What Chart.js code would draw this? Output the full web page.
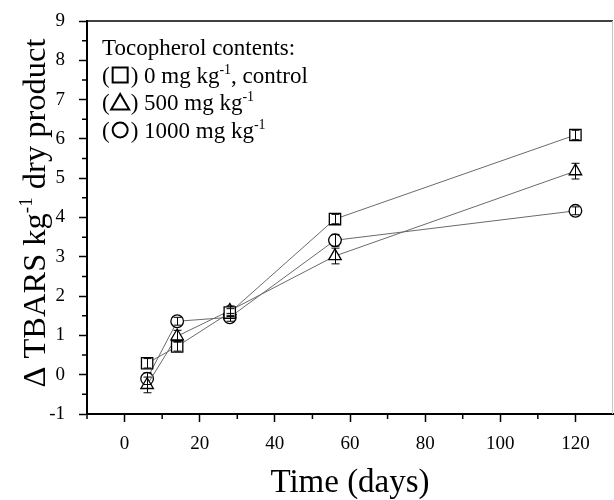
<!DOCTYPE html>
<html>
<head>
<meta charset="utf-8">
<script src="https://cdn.jsdelivr.net/npm/chart.js@4.4.1/dist/chart.umd.min.js"></script>
<style>
  html, body { margin: 0; padding: 0; background: #fff; }
</style>
</head>
<body>
<canvas id="bieuDoTBARS" width="614" height="500"></canvas>
<script>
// Số liệu
const ngay = [6, 14, 28, 56, 120];
const doiChung = [0.29, 0.72, 1.58, 3.96, 6.1];
const toco500 = [-0.26, 0.98, 1.63, 3.02, 5.18];
const toco1000 = [-0.1, 1.36, 1.46, 3.42, 4.17];

const saiSoDoiChung = [0.12, 0.12, 0.1, 0.12, 0.12];
const saiSo500 = [0.2, 0.15, 0.12, 0.2, 0.2];
const saiSo1000 = [0.15, 0.1, 0.1, 0.15, 0.1];

const vachX = [0, 20, 40, 60, 80, 100, 120];
const vachY = [-1, 0, 1, 2, 3, 4, 5, 6, 7, 8, 9];
const vachPhuX = [-10, 10, 30, 50, 70, 90, 110];
const vachPhuY = [-0.5, 0.5, 1.5, 2.5, 3.5, 4.5, 5.5, 6.5, 7.5, 8.5];

const FONT = "'Liberation Serif', 'Times New Roman', serif";

function taoDiem(xs, ys) {
    return xs.map((x, i) => ({ x: x, y: ys[i] }));
}

// Thanh sai số, vạch phụ, khung, tiêu đề trục y và chú thích
const veThem = {
    id: 'veThem',
    afterDatasetsDraw(chart) {
        const ctx = chart.ctx;
        const sx = chart.scales.x, sy = chart.scales.y;
        const nhom = [[doiChung, saiSoDoiChung], [toco500, saiSo500], [toco1000, saiSo1000]];
        ctx.save();
        ctx.strokeStyle = '#000';
        ctx.lineWidth = 1;
        nhom.forEach(([gt, ss]) => {
            gt.forEach((v, i) => {
                const x = Math.round(sx.getPixelForValue(ngay[i])) + 0.5;
                const y1 = sy.getPixelForValue(v + ss[i]);
                const y2 = sy.getPixelForValue(v - ss[i]);
                ctx.beginPath();
                ctx.moveTo(x, y1); ctx.lineTo(x, y2);
                ctx.moveTo(x - 4, y1); ctx.lineTo(x + 4, y1);
                ctx.moveTo(x - 4, y2); ctx.lineTo(x + 4, y2);
                ctx.stroke();
            });
        });
        ctx.restore();
    },
    afterDraw(chart) {
        const ctx = chart.ctx;
        const a = chart.chartArea;
        const sx = chart.scales.x, sy = chart.scales.y;
        ctx.save();

        // khung trên và phải
        ctx.strokeStyle = '#000';
        ctx.lineWidth = 1.5;
        ctx.beginPath();
        ctx.moveTo(a.left, a.top); ctx.lineTo(a.right, a.top);
        ctx.stroke();
        ctx.strokeStyle = '#c8c8c8';
        ctx.lineWidth = 1;
        ctx.beginPath();
        ctx.moveTo(a.right - 0.5, a.top); ctx.lineTo(a.right - 0.5, a.bottom);
        ctx.stroke();

        // vạch phụ
        ctx.strokeStyle = '#000';
        ctx.lineWidth = 1.5;
        ctx.beginPath();
        vachPhuX.forEach(v => {
            const x = sx.getPixelForValue(v);
            ctx.moveTo(x, a.bottom); ctx.lineTo(x, a.bottom + 5);
        });
        vachPhuY.forEach(v => {
            const y = sy.getPixelForValue(v);
            ctx.moveTo(a.left, y); ctx.lineTo(a.left - 5, y);
        });
        ctx.stroke();

        // tiêu đề trục y có chỉ số trên
        ctx.fillStyle = '#000';
        ctx.textBaseline = 'alphabetic';
        ctx.textAlign = 'left';
        const fLon = '32.5px ' + FONT, fNho = '19px ' + FONT;
        const p1 = '\u0394 TBARS kg', p2 = '-1', p3 = ' dry product';
        ctx.font = fLon; const w1 = ctx.measureText(p1).width, w3 = ctx.measureText(p3).width;
        ctx.font = fNho; const w2 = ctx.measureText(p2).width;
        const tong = w1 + w2 + w3;
        ctx.translate(45, 213);
        ctx.rotate(-Math.PI / 2);
        let x = -tong / 2;
        ctx.font = fLon; ctx.fillText(p1, x, 0); x += w1;
        ctx.font = fNho; ctx.fillText(p2, x, -13); x += w2;
        ctx.font = fLon; ctx.fillText(p3, x, 0);
        ctx.setTransform(1, 0, 0, 1, 0, 0);

        // chú thích
        const hang = [
            { ky: null, chinh: 'Tocopherol contents:', mu: '', sau: '' },
            { ky: 'rect', chinh: ' 0 mg kg', mu: '-1', sau: ', control' },
            { ky: 'triangle', chinh: ' 500 mg kg', mu: '-1', sau: '' },
            { ky: 'circle', chinh: ' 1000 mg kg', mu: '-1', sau: '' }
        ];
        const fChu = '23px ' + FONT, fMu = '14px ' + FONT;
        hang.forEach((h, i) => {
            const y = 55 + i * 27.5;
            let x = 102;
            ctx.font = fChu;
            if (h.ky) {
                ctx.fillText('(', x, y); x += ctx.measureText('(').width;
                const cx = x + 10.5, cy = y - 7.5;
                ctx.lineWidth = 2;
                ctx.strokeStyle = '#000';
                ctx.beginPath();
                if (h.ky === 'rect') {
                    ctx.rect(cx - 7.5, cy - 7.5, 15, 15);
                } else if (h.ky === 'triangle') {
                    ctx.moveTo(cx, cy - 8.5);
                    ctx.lineTo(cx + 9, cy + 7);
                    ctx.lineTo(cx - 9, cy + 7);
                    ctx.closePath();
                } else {
                    ctx.arc(cx, cy, 7.5, 0, Math.PI * 2);
                }
                ctx.stroke();
                x += 21;
                ctx.fillText(')', x, y); x += ctx.measureText(')').width;
            }
            ctx.fillText(h.chinh, x, y); x += ctx.measureText(h.chinh).width;
            if (h.mu) {
                ctx.font = fMu;
                ctx.fillText(h.mu, x, y - 9); x += ctx.measureText(h.mu).width;
                ctx.font = fChu;
            }
            if (h.sau) ctx.fillText(h.sau, x, y);
        });
        ctx.restore();
    }
};

function boDuLieu(nhan, ys, kieu, r) {
    return {
        label: nhan,
        data: taoDiem(ngay, ys),
        borderColor: '#6a6a6a',
        borderWidth: 1,
        pointStyle: kieu,
        pointRadius: r,
        pointBorderColor: '#000',
        pointBackgroundColor: '#fff',
        pointBorderWidth: 1.3,
        tension: 0,
        fill: false
    };
}

function boLeTruc(truc) {
    truc.paddingLeft = 0;
    truc.paddingRight = 0;
    truc.paddingTop = 0;
    truc.paddingBottom = 0;
}

const ctx = document.getElementById('bieuDoTBARS').getContext('2d');
new Chart(ctx, {
    type: 'line',
    data: {
        datasets: [
            boDuLieu('0 mg kg-1, control', doiChung, 'rect', 8),
            boDuLieu('500 mg kg-1', toco500, 'triangle', 7.2),
            boDuLieu('1000 mg kg-1', toco1000, 'circle', 6.3)
        ]
    },
    options: {
        responsive: false,
        animation: false,
        layout: { autoPadding: false, padding: { top: 21, right: 1, left: 0, bottom: 0 } },
        plugins: {
            legend: { display: false },
            tooltip: { enabled: false }
        },
        scales: {
            x: {
                type: 'linear',
                min: -10,
                max: 130,
                afterBuildTicks: (truc) => { truc.ticks = vachX.map(v => ({ value: v })); },
                afterFit: (truc) => { truc.height = 86; boLeTruc(truc); },
                border: { display: true, color: '#000', width: 2 },
                grid: { drawOnChartArea: false, drawTicks: true, tickLength: 8, tickColor: '#000', tickWidth: 1.5 },
                ticks: { color: '#000', font: { family: FONT, size: 19 }, padding: 11, maxRotation: 0 },
                title: {
                    display: true,
                    text: 'Time (days)',
                    color: '#000',
                    font: { family: FONT, size: 33, lineHeight: 1 },
                    padding: { top: 0, bottom: 0 }
                }
            },
            y: {
                type: 'linear',
                min: -1,
                max: 9,
                afterBuildTicks: (truc) => { truc.ticks = vachY.map(v => ({ value: v })); },
                afterFit: (truc) => { truc.width = 87; boLeTruc(truc); },
                border: { display: true, color: '#000', width: 2 },
                grid: { drawOnChartArea: false, drawTicks: true, tickLength: 8, tickColor: '#000', tickWidth: 1.5 },
                ticks: { color: '#000', font: { family: FONT, size: 19 }, padding: 14 }
            }
        }
    },
    plugins: [veThem]
});
</script>
</body>
</html>
